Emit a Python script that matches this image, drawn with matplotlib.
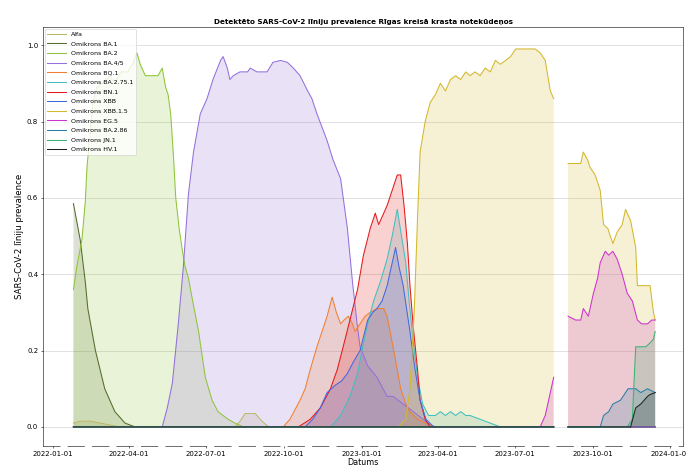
import numpy as np
import pandas as pd
import matplotlib
matplotlib.use("Agg")
import matplotlib.pyplot as plt
import matplotlib.dates as mdates

# ---- data: day offsets since 2022-01-01 and prevalence values ----
BASE_DATE = "2022-01-01"
GAP_DAY = 600  # no samples around this date

labels = ["Alfa", "Omikrons BA.1", "Omikrons BA.2", "Omikrons BA.4/5",
          "Omikrons BQ.1", "Omikrons BA.2.75.1", "Omikrons BN.1", "Omikrons XBB",
          "Omikrons XBB.1.5", "Omikrons EG.5", "Omikrons BA.2.86",
          "Omikrons JN.1", "Omikrons HV.1"]

colors = ["#bdb76b", "#556b2f", "#8fc43a", "#9370db", "#f08030", "#40c0c0",
          "#e31a1c", "#4169e1", "#d4b82c", "#cc33cc", "#2a7fa8", "#3cb371", "#222222"]

alfa_days = [24, 32, 44, 56, 67, 79, 215, 221, 227, 239, 247, 255, 592, 609, 712]
alfa_vals = [0.01, 0.015, 0.015, 0.01, 0.005, 0, 0, 0.015, 0.035, 0.035, 0.015, 0, 0, 0, 0]

ba1_days = [24, 32, 38, 41, 50, 61, 73, 85, 97, 592, 609, 712]
ba1_vals = [0.585, 0.49, 0.38, 0.31, 0.20, 0.10, 0.04, 0.01, 0, 0, 0, 0]

ba2_days = [24, 28, 34, 38, 40, 44, 47, 52, 58, 67, 73, 80, 88, 94, 99, 103, 109, 117,
            124, 129, 133, 136, 139, 142, 145, 149, 153, 156, 160, 165, 172, 180, 188,
            195, 207, 215, 225, 592, 609, 712]
ba2_vals = [0.36, 0.42, 0.49, 0.59, 0.68, 0.78, 0.85, 0.89, 0.90, 0.92, 0.90, 0.93, 0.93,
            0.95, 0.98, 0.95, 0.92, 0.92, 0.92, 0.94, 0.89, 0.87, 0.82, 0.72, 0.60, 0.52,
            0.46, 0.42, 0.39, 0.33, 0.25, 0.13, 0.07, 0.04, 0.02, 0.01, 0, 0, 0, 0]

ba45_days = [24, 129, 135, 141, 148, 154, 160, 166, 174, 182, 189, 198, 201, 206, 209,
             213, 221, 230, 233, 241, 253, 260, 269, 277, 284, 292, 301, 306, 312, 324,
             331, 340, 348, 354, 360, 363, 372, 383, 395, 402, 414, 426, 443, 452, 592,
             609, 712]
ba45_vals = [0, 0, 0.05, 0.115, 0.27, 0.42, 0.61, 0.72, 0.82, 0.86, 0.91, 0.96, 0.97,
             0.94, 0.91, 0.92, 0.93, 0.93, 0.94, 0.93, 0.93, 0.955, 0.96, 0.955, 0.94,
             0.92, 0.88, 0.86, 0.82, 0.75, 0.70, 0.65, 0.52, 0.38, 0.26, 0.21, 0.16, 0.13,
             0.08, 0.08, 0.06, 0.04, 0.01, 0, 0, 0, 0]

bq1_days = [24, 272, 280, 292, 298, 304, 312, 318, 324, 330, 335, 340, 344, 349, 354,
            357, 363, 369, 375, 383, 391, 395, 402, 407, 411, 417, 422, 431, 440, 449,
            592, 609, 712]
bq1_vals = [0, 0, 0.02, 0.07, 0.10, 0.15, 0.21, 0.25, 0.29, 0.34, 0.30, 0.27, 0.28, 0.29,
            0.27, 0.25, 0.27, 0.29, 0.30, 0.31, 0.31, 0.29, 0.21, 0.15, 0.10, 0.06, 0.04,
            0.02, 0.01, 0, 0, 0, 0]

ba275_days = [24, 328, 340, 351, 360, 367, 373, 379, 387, 395, 401, 407, 412, 417, 421,
              426, 431, 437, 444, 452, 458, 464, 470, 476, 482, 488, 493, 505, 517, 529,
              592, 609, 712]
ba275_vals = [0, 0, 0.03, 0.08, 0.14, 0.22, 0.28, 0.33, 0.38, 0.44, 0.50, 0.57, 0.50,
              0.43, 0.33, 0.22, 0.13, 0.06, 0.03, 0.03, 0.04, 0.03, 0.04, 0.03, 0.04, 0.03,
              0.03, 0.02, 0.01, 0, 0, 0, 0]

bn1_days = [24, 290, 304, 316, 328, 336, 343, 351, 360, 367, 375, 381, 385, 391, 395,
            401, 407, 411, 415, 419, 422, 426, 431, 434, 440, 446, 592, 609, 712]
bn1_vals = [0, 0, 0.02, 0.05, 0.10, 0.15, 0.21, 0.28, 0.36, 0.45, 0.52, 0.56, 0.53, 0.56,
            0.58, 0.62, 0.66, 0.66, 0.58, 0.48, 0.37, 0.26, 0.15, 0.07, 0.02, 0, 0, 0, 0]

xbb_days = [24, 298, 307, 316, 324, 334, 341, 348, 355, 363, 372, 378, 383, 389, 395,
            400, 405, 409, 414, 418, 422, 428, 434, 441, 450, 592, 609, 712]
xbb_vals = [0, 0, 0.02, 0.05, 0.09, 0.11, 0.12, 0.14, 0.17, 0.20, 0.28, 0.30, 0.31, 0.33,
            0.37, 0.42, 0.47, 0.42, 0.37, 0.31, 0.25, 0.15, 0.07, 0.02, 0, 0, 0, 0]

xbb15_days = [24, 408, 417, 422, 427, 431, 434, 440, 446, 452, 458, 464, 470, 476, 482,
              488, 493, 499, 505, 511, 517, 523, 529, 535, 541, 547, 553, 561, 570, 576,
              582, 588, 592, 609, 618, 624, 627, 632, 635, 641, 647, 651, 656, 662, 667,
              673, 677, 683, 689, 691, 698, 706, 710, 712]
xbb15_vals = [0, 0, 0.02, 0.10, 0.30, 0.55, 0.72, 0.80, 0.85, 0.87, 0.90, 0.88, 0.91,
              0.92, 0.91, 0.93, 0.92, 0.93, 0.92, 0.94, 0.93, 0.96, 0.95, 0.96, 0.97, 0.99,
              0.99, 0.99, 0.99, 0.98, 0.96, 0.88, 0.86, 0.69, 0.69, 0.69, 0.72, 0.70, 0.68,
              0.66, 0.62, 0.53, 0.52, 0.48, 0.51, 0.53, 0.57, 0.54, 0.47, 0.37, 0.37, 0.37,
              0.30, 0.28]

eg5_days = [24, 576, 582, 587, 592, 609, 618, 624, 627, 633, 639, 644, 647, 653, 657,
            662, 667, 673, 679, 685, 691, 696, 703, 708, 712]
eg5_vals = [0, 0, 0.03, 0.08, 0.13, 0.29, 0.28, 0.28, 0.31, 0.29, 0.35, 0.39, 0.43, 0.46,
            0.45, 0.46, 0.44, 0.40, 0.35, 0.33, 0.28, 0.27, 0.27, 0.28, 0.28]

ba286_days = [24, 592, 609, 647, 651, 657, 662, 671, 677, 680, 689, 695, 703, 712]
ba286_vals = [0, 0, 0, 0, 0.03, 0.04, 0.06, 0.07, 0.09, 0.10, 0.10, 0.09, 0.10, 0.09]

jn1_days = [24, 592, 609, 679, 685, 689, 701, 706, 710, 712]
jn1_vals = [0, 0, 0, 0, 0.02, 0.21, 0.21, 0.22, 0.23, 0.25]

hv1_days = [24, 592, 609, 683, 689, 695, 703, 706, 712]
hv1_vals = [0, 0, 0, 0, 0.05, 0.06, 0.08, 0.085, 0.09]

series_days = [alfa_days, ba1_days, ba2_days, ba45_days, bq1_days, ba275_days, bn1_days,
               xbb_days, xbb15_days, eg5_days, ba286_days, jn1_days, hv1_days]
series_vals = [alfa_vals, ba1_vals, ba2_vals, ba45_vals, bq1_vals, ba275_vals, bn1_vals,
               xbb_vals, xbb15_vals, eg5_vals, ba286_vals, jn1_vals, hv1_vals]

tick_dates = ["2022-01-01", "2022-04-01", "2022-07-01", "2022-10-01", "2023-01-01",
              "2023-04-01", "2023-07-01", "2023-10-01", "2024-01-01"]

# ---- plotting ----
fig = plt.figure(figsize=(13.72, 9.38), dpi=50)
ax = fig.add_axes([0.0627, 0.049, 0.933, 0.893])

base = pd.Timestamp(BASE_DATE)
for lab, col, d, v in zip(labels, colors, series_days, series_vals):
    s = pd.Series(v, index=d, dtype=float)
    s.loc[GAP_DAY] = np.nan
    s = s.sort_index()
    dates = base + pd.to_timedelta(s.index, unit="D")
    ax.plot(dates, s.values, color=col, lw=1.5, label=lab)
    ax.fill_between(dates, 0, s.values, color=col, alpha=0.2, lw=0)

ax.set_xticks(pd.to_datetime(tick_dates))
ax.xaxis.set_major_formatter(mdates.DateFormatter("%Y-%m-%d"))
ax.tick_params(axis="both", labelsize=10)
ax.set_ylim(-0.05, 1.047)
ax.set_xlim(base + pd.Timedelta(days=-12), base + pd.Timedelta(days=745))
ax.set_yticks([0.0, 0.2, 0.4, 0.6, 0.8, 1.0])
ax.grid(axis="y", color="#d0d0d0", lw=0.9)
ax.set_axisbelow(True)
ax.spines["bottom"].set_linestyle((0, (30, 14)))

ax.set_title("Detektēto SARS-CoV-2 līniju prevalence Rīgas kreisā krasta notekūdeņos",
             fontsize=10.5, fontweight="bold", pad=5)
ax.set_xlabel("Datums", fontsize=11.5, labelpad=1)
ax.set_ylabel("SARS-CoV-2 līniju prevalence", fontsize=12.5, labelpad=4)
ax.legend(loc="upper left", fontsize=9, handlelength=3, labelspacing=0.68,
          borderaxespad=0.3)

fig.savefig("out.png", dpi=50)
